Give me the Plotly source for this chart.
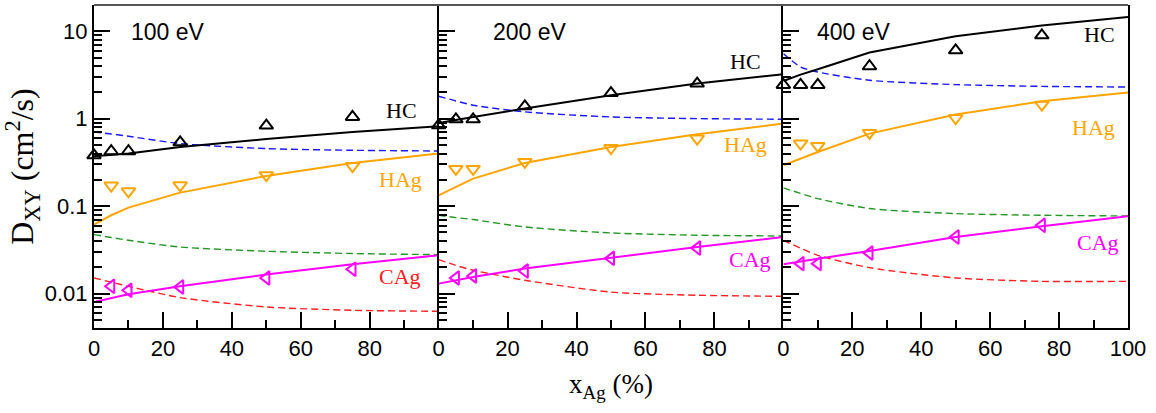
import math
import plotly.graph_objects as go

ENERGIES = ["100 eV", "200 eV", "400 eV"]
X_HC_DATA = [0, 5, 10, 25, 50, 75]
X_AG_DATA = [5, 10, 25, 50, 75]
X_MODEL = [0, 5, 10, 25, 50, 75, 100]

HC_DATA_100 = [0.382, 0.425, 0.425, 0.538, 0.836, 1.05]
HC_DATA_200 = [0.843, 0.987, 0.987, 1.39, 1.97, 2.53]
HC_DATA_400 = [2.44, 2.44, 2.44, 3.99, 6.08, 9.02]

HAG_DATA_100 = [0.172, 0.148, 0.173, 0.226, 0.288]
HAG_DATA_200 = [0.267, 0.267, 0.321, 0.463, 0.594]
HAG_DATA_400 = [0.520, 0.489, 0.688, 1.02, 1.45]

CAG_DATA_100 = [0.0121, 0.0109, 0.0119, 0.0151, 0.0190]
CAG_DATA_200 = [0.0151, 0.0159, 0.0181, 0.0253, 0.0332]
CAG_DATA_400 = [0.0220, 0.0220, 0.0291, 0.0444, 0.0604]

HC_MODEL_100 = [0.372, 0.386, 0.400, 0.476, 0.587, 0.706, 0.821]
HC_MODEL_200 = [0.895, 0.97, 1.049, 1.31, 1.86, 2.53, 3.23]
HC_MODEL_400 = [2.71, 3.2, 3.68, 5.72, 8.79, 11.7, 14.6]

HAG_MODEL_100 = [0.0615, 0.0787, 0.0964, 0.143, 0.222, 0.312, 0.400]
HAG_MODEL_200 = [0.133, 0.166, 0.207, 0.312, 0.476, 0.665, 0.881]
HAG_MODEL_400 = [0.294, 0.35, 0.417, 0.677, 1.12, 1.585, 1.995]

CAG_MODEL_100 = [0.00801, 0.0089, 0.00982, 0.0121, 0.0165, 0.0216, 0.0274]
CAG_MODEL_200 = [0.0130, 0.0142, 0.0155, 0.0193, 0.0258, 0.0341, 0.0444]
CAG_MODEL_400 = [0.0216, 0.0233, 0.0251, 0.0307, 0.0444, 0.0589, 0.0766]

BLUE_100 = [0.706, 0.67, 0.631, 0.520, 0.456, 0.436, 0.428]
BLUE_200 = [1.81, 1.6, 1.43, 1.20, 1.05, 1.005, 0.987]
BLUE_400 = [5.57, 3.92, 3.43, 2.76, 2.46, 2.35, 2.31]

GREEN_100 = [0.0473, 0.0438, 0.0407, 0.0341, 0.0305, 0.0287, 0.0279]
GREEN_200 = [0.0787, 0.074, 0.0703, 0.0578, 0.0494, 0.0465, 0.0456]
GREEN_400 = [0.162, 0.14, 0.122, 0.094, 0.0823, 0.0787, 0.0773]

RED_100 = [0.0151, 0.0135, 0.0121, 0.0090, 0.00703, 0.00644, 0.00627]
RED_200 = [0.0245, 0.021, 0.0185, 0.0142, 0.0104, 0.00957, 0.00931]
RED_400 = [0.0407, 0.033, 0.0274, 0.0198, 0.0151, 0.0138, 0.0138]

Y_TICKS = [0.01, 0.1, 1, 10]
Y_TICK_TEXT = ["0.01", "0.1", "1", "10"]
X_TICKS_SHORT = [0, 20, 40, 60, 80]
X_TICKS_FULL = [0, 20, 40, 60, 80, 100]

BLACK = "#000000"
ORANGE = "#ffa500"
MAGENTA = "#ff00ff"
BLUE = "#1a1aff"
GREEN = "#229922"
RED = "#ff2020"

SANS = "Liberation Sans, Arial, sans-serif"
SERIF = "Liberation Serif, Times New Roman, serif"

panels = [
    dict(hc_d=HC_DATA_100, hag_d=HAG_DATA_100, cag_d=CAG_DATA_100,
         hc_m=HC_MODEL_100, hag_m=HAG_MODEL_100, cag_m=CAG_MODEL_100,
         blue=BLUE_100, green=GREEN_100, red=RED_100),
    dict(hc_d=HC_DATA_200, hag_d=HAG_DATA_200, cag_d=CAG_DATA_200,
         hc_m=HC_MODEL_200, hag_m=HAG_MODEL_200, cag_m=CAG_MODEL_200,
         blue=BLUE_200, green=GREEN_200, red=RED_200),
    dict(hc_d=HC_DATA_400, hag_d=HAG_DATA_400, cag_d=CAG_DATA_400,
         hc_m=HC_MODEL_400, hag_m=HAG_MODEL_400, cag_m=CAG_MODEL_400,
         blue=BLUE_400, green=GREEN_400, red=RED_400),
]

fig = go.Figure()

MSIZE = 12
for i, p in enumerate(panels):
    ax = "" if i == 0 else str(i + 1)
    xa, ya = "x" + ax, "y" + ax
    dash = "7px,4px"
    for key, col in (("blue", BLUE), ("green", GREEN), ("red", RED)):
        fig.add_trace(go.Scatter(x=X_MODEL, y=p[key], mode="lines", xaxis=xa, yaxis=ya,
                                 line=dict(color=col, width=1.4, dash=dash, shape="spline", smoothing=0.7),
                                 showlegend=False, hoverinfo="skip"))
    for key, col in (("hc_m", BLACK), ("hag_m", ORANGE), ("cag_m", MAGENTA)):
        fig.add_trace(go.Scatter(x=X_MODEL, y=p[key], mode="lines", xaxis=xa, yaxis=ya,
                                 line=dict(color=col, width=2),
                                 showlegend=False, hoverinfo="skip"))
    fig.add_trace(go.Scatter(x=X_HC_DATA, y=p["hc_d"], mode="markers", xaxis=xa, yaxis=ya,
                             marker=dict(symbol="triangle-up-open", size=MSIZE, color=BLACK,
                                         line=dict(width=2, color=BLACK)),
                             cliponaxis=False, showlegend=False))
    fig.add_trace(go.Scatter(x=X_AG_DATA, y=p["hag_d"], mode="markers", xaxis=xa, yaxis=ya,
                             marker=dict(symbol="triangle-down-open", size=MSIZE, color=ORANGE,
                                         line=dict(width=2, color=ORANGE)),
                             cliponaxis=False, showlegend=False))
    fig.add_trace(go.Scatter(x=X_AG_DATA, y=p["cag_d"], mode="markers", xaxis=xa, yaxis=ya,
                             marker=dict(symbol="triangle-left-open", size=MSIZE, color=MAGENTA,
                                         line=dict(width=2, color=MAGENTA)),
                             cliponaxis=False, showlegend=False))

YRANGE = [-2.394, 1.302]
minor_vals = []
for dec in (0.001, 0.01, 0.1, 1, 10):
    for m in range(2, 10):
        v = m * dec
        if 0.004 <= v <= 20:
            minor_vals.append(v)

layout = dict(
    width=1156, height=413,
    margin=dict(l=94, r=28, t=5, b=85),
    paper_bgcolor="white", plot_bgcolor="white",
    showlegend=False,
    font=dict(family=SANS, size=22, color="black"),
)
for i in range(3):
    ax = "" if i == 0 else str(i + 1)
    dom = [i / 3, (i + 1) / 3]
    layout["xaxis" + ax] = dict(
        domain=dom, range=[0, 100], anchor="y" + ax,
        showline=True, linecolor="black", linewidth=2, mirror=False,
        ticks="inside", ticklen=16, tickwidth=2, tickcolor="black",
        tickvals=X_TICKS_FULL if i == 2 else X_TICKS_SHORT,
        ticktext=[str(v) for v in (X_TICKS_FULL if i == 2 else X_TICKS_SHORT)],
        minor=dict(ticks="inside", ticklen=8, tickwidth=2, tickcolor="black", dtick=10),
        showgrid=False, zeroline=False,
        tickfont=dict(family=SANS, size=22),
    )
    layout["yaxis" + ax] = dict(
        type="log", range=YRANGE, anchor="x" + ax,
        showline=True, linecolor="black", linewidth=2, mirror=(i == 2),
        ticks="inside", ticklen=16, tickwidth=2, tickcolor="black",
        tickvals=Y_TICKS, ticktext=Y_TICK_TEXT, showticklabels=(i == 0),
        minor=dict(ticks="inside", ticklen=8, tickwidth=2, tickcolor="black", tickvals=minor_vals),
        showgrid=False, zeroline=False,
        tickfont=dict(family=SANS, size=22),
    )
layout["xaxis2"]["title"] = dict(text="x<sub>Ag</sub> (%)", font=dict(family=SERIF, size=27), standoff=14)
layout["yaxis"]["title"] = dict(text="D<sub>XY</sub> (cm<sup>2</sup>/s)", font=dict(family=SERIF, size=32), standoff=4)

fig.update_layout(**layout)

# top frame line
fig.add_shape(type="line", xref="paper", yref="paper", x0=0, x1=1, y0=1, y1=1,
              line=dict(color="#555555", width=2))

# energy labels
energy_pos = [(10.2, 0.99), (15.3, 0.99), (9.2, 0.99)]
for i, (txt, (xx, yy)) in enumerate(zip(ENERGIES, energy_pos)):
    ax = "" if i == 0 else str(i + 1)
    fig.add_annotation(x=xx, y=yy, xref="x" + ax, yref="y" + ax, text=txt, showarrow=False,
                       xanchor="left", yanchor="middle", font=dict(family=SANS, size=23, color="black"))

species_pos = [
    [("HC", 89.3, 0.093, BLACK), ("HAg", 88.8, -0.700, ORANGE), ("CAg", 88.8, -1.805, RED)],
    [("HC", 88.9, 0.654, BLACK), ("HAg", 88.9, -0.290, ORANGE), ("CAg", 90.3, -1.605, MAGENTA)],
    [("HC", 91.8, 0.965, BLACK), ("HAg", 90.1, -0.095, ORANGE), ("CAg", 91.2, -1.420, MAGENTA)],
]
for i, lst in enumerate(species_pos):
    ax = "" if i == 0 else str(i + 1)
    for txt, xx, yy, col in lst:
        fig.add_annotation(x=xx, y=yy, xref="x" + ax, yref="y" + ax, text=txt, showarrow=False,
                           xanchor="center", yanchor="middle", font=dict(family=SERIF, size=22, color=col))

fig.write_html("out.html")
